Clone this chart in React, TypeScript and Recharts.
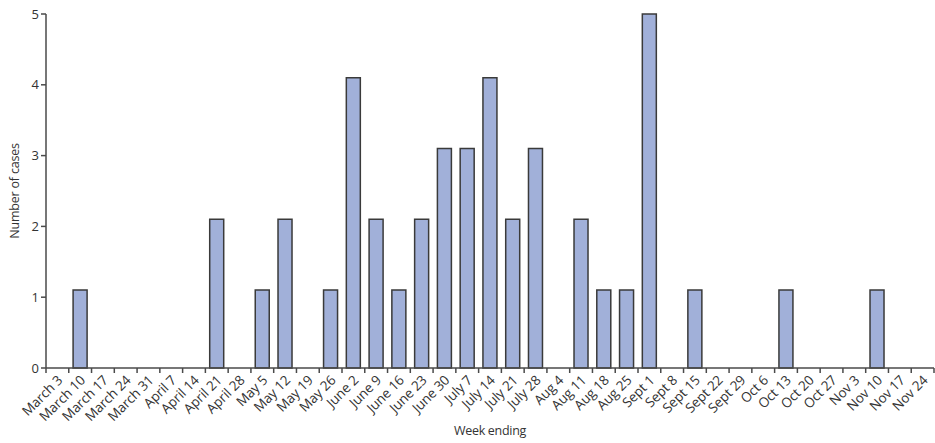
import { BarChart, Bar, XAxis, YAxis, Label } from "recharts";

const weeks = [
  "March 3", "March 10", "March 17", "March 24", "March 31", "April 7", "April 14",
  "April 21", "April 28", "May 5", "May 12", "May 19", "May 26", "June 2", "June 9",
  "June 16", "June 23", "June 30", "July 7", "July 14", "July 21", "July 28", "Aug 4",
  "Aug 11", "Aug 18", "Aug 25", "Sept 1", "Sept 8", "Sept 15", "Sept 22", "Sept 29",
  "Oct 6", "Oct 13", "Oct 20", "Oct 27", "Nov 3", "Nov 10", "Nov 17", "Nov 24",
];

const cases = [
  0, 1.1, 0, 0, 0, 0, 0,
  2.1, 0, 1.1, 2.1, 0, 1.1, 4.1, 2.1,
  1.1, 2.1, 3.1, 3.1, 4.1, 2.1, 3.1, 0,
  2.1, 1.1, 1.1, 5, 0, 1.1, 0, 0,
  0, 1.1, 0, 0, 0, 1.1, 0, 0,
];

const yTicks = [0, 1, 2, 3, 4, 5];

const data = weeks.map((w, i) => ({ week: w, cases: cases[i] }));

const FONT = "'Open Sans', 'Noto Sans', sans-serif";
const AXIS = "#4a4a4a";

function WeekTick(props: any) {
  const { x, y, payload, index } = props;
  const half = payload.offset ?? 11.4;
  const ax = x + 6;
  const ay = y + 5;
  return (
    <g>
      {index === 0 && <line x1={x - half} x2={x - half} y1={y - 8} y2={y - 3} stroke={AXIS} strokeWidth={1.5} />}
      <line x1={x + half} x2={x + half} y1={y - 8} y2={y - 3} stroke={AXIS} strokeWidth={1.5} />
      <text
        x={ax}
        y={ay}
        textAnchor="end"
        transform={`rotate(-45, ${ax}, ${ay})`}
        style={{ fontSize: 13.5, fontFamily: FONT, fill: "#333", letterSpacing: -0.1 }}
      >
        {payload.value}
      </text>
    </g>
  );
}

export default function App() {
  return (
    <div style={{ position: "absolute", left: 0, top: 0, background: "#fff" }}>
      <BarChart
        width={935}
        height={443}
        data={data}
        margin={{ top: 14, right: 1, left: 0, bottom: 0 }}
        barCategoryGap="19%"
      >
        <XAxis
          dataKey="week"
          interval={0}
          tickLine={false}
          axisLine={{ stroke: AXIS, strokeWidth: 1.5 }}
          tick={<WeekTick />}
          height={75}
        >
          <Label
            value="Week ending"
            position="insideBottom"
            offset={8}
            style={{ fontSize: 12.5, fontFamily: FONT, fill: "#333", letterSpacing: -0.3 }}
          />
        </XAxis>
        <YAxis
          domain={[0, 5]}
          ticks={yTicks}
          width={46}
          allowDecimals={false}
          tickSize={5}
          tickLine={{ stroke: AXIS, strokeWidth: 1.5 }}
          axisLine={{ stroke: AXIS, strokeWidth: 1.5 }}
          tick={{ fontSize: 13, fontFamily: FONT, fill: "#333" }}
        >
          <Label
            value="Number of cases"
            angle={-90}
            position="insideLeft"
            offset={15}
            style={{ textAnchor: "middle", fontSize: 12.5, fontFamily: FONT, fill: "#333", letterSpacing: -0.2 }}
          />
        </YAxis>
        <Bar
          dataKey="cases"
          fill="#a1b0d9"
          stroke="#3a3a3a"
          strokeWidth={1.5}
          isAnimationActive={false}
        />
      </BarChart>
    </div>
  );
}
